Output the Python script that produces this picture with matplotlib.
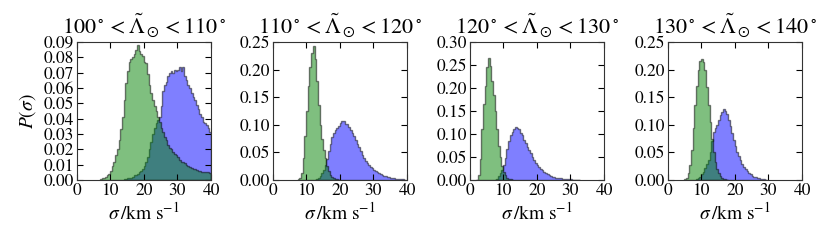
import numpy as np
import matplotlib
matplotlib.use("Agg")
import matplotlib.pyplot as plt

plt.rcParams['font.family'] = ['STIXGeneral', 'DejaVu Serif']
plt.rcParams['mathtext.fontset'] = 'stix'

bin_width = 0.5

titles = [r'$100^\circ < \tilde{\Lambda}_\odot < 110^\circ$',
          r'$110^\circ < \tilde{\Lambda}_\odot < 120^\circ$',
          r'$120^\circ < \tilde{\Lambda}_\odot < 130^\circ$',
          r'$130^\circ < \tilde{\Lambda}_\odot < 140^\circ$']

# green histograms: first bin edge, then density per 0.5 km/s bin
g1_start = 7.0
g1 = [0.0005, 0.001, 0.001, 0.002, 0.003, 0.004, 0.006, 0.009, 0.012, 0.016,
      0.020, 0.026, 0.033, 0.041, 0.052, 0.063, 0.071, 0.077, 0.079, 0.080,
      0.082, 0.085, 0.088, 0.084, 0.082, 0.081, 0.077, 0.076, 0.069, 0.062,
      0.057, 0.052, 0.048, 0.045, 0.041, 0.038, 0.034, 0.031, 0.028, 0.026,
      0.023, 0.021, 0.020, 0.018, 0.017, 0.016, 0.015, 0.013, 0.012, 0.012,
      0.011, 0.010, 0.009, 0.0085, 0.008, 0.0075, 0.007, 0.0065, 0.006, 0.006,
      0.0055, 0.0055, 0.005, 0.005, 0.005, 0.0045]
g2_start = 7.5
g2 = [0.001, 0.004, 0.012, 0.040, 0.080, 0.125, 0.170, 0.205, 0.230, 0.243,
      0.220, 0.180, 0.135, 0.100, 0.075, 0.055, 0.040, 0.026, 0.016, 0.009,
      0.005, 0.003, 0.0015, 0.001, 0.0005]
g3_start = 2.0
g3 = [0.001, 0.010, 0.045, 0.110, 0.165, 0.205, 0.245, 0.265, 0.248, 0.215,
      0.185, 0.150, 0.110, 0.075, 0.050, 0.030, 0.018, 0.010, 0.005, 0.003,
      0.0015, 0.001]
g4_start = 5.0
g4 = [0.001, 0.004, 0.012, 0.028, 0.055, 0.095, 0.135, 0.170, 0.200, 0.215,
      0.220, 0.213, 0.200, 0.168, 0.135, 0.105, 0.075, 0.050, 0.032, 0.020,
      0.012, 0.007, 0.004, 0.002, 0.001, 0.0005]

# blue histograms
b1_start = 14.0
b1 = [0.0005, 0.0005, 0.001, 0.001, 0.0015, 0.002, 0.003, 0.003, 0.004, 0.005,
      0.006, 0.007, 0.009, 0.012, 0.015, 0.020, 0.025, 0.030, 0.034, 0.037,
      0.039, 0.041, 0.048, 0.058, 0.062, 0.064, 0.068, 0.070, 0.071, 0.070,
      0.072, 0.071, 0.072, 0.074, 0.071, 0.074, 0.068, 0.065, 0.062, 0.060,
      0.057, 0.054, 0.052, 0.049, 0.046, 0.043, 0.041, 0.038, 0.037, 0.036,
      0.034, 0.031]
b2_start = 12.5
b2 = [0.0005, 0.002, 0.004, 0.008, 0.013, 0.019, 0.027, 0.038, 0.052, 0.066,
      0.078, 0.086, 0.090, 0.094, 0.098, 0.104, 0.107, 0.106, 0.101, 0.102,
      0.096, 0.091, 0.085, 0.080, 0.073, 0.066, 0.059, 0.052, 0.045, 0.040,
      0.035, 0.030, 0.027, 0.024, 0.021, 0.018, 0.016, 0.014, 0.012, 0.010,
      0.009, 0.008, 0.007, 0.006, 0.005, 0.004, 0.0035, 0.003, 0.0025, 0.002,
      0.0015, 0.001, 0.001, 0.0005]
b3_start = 7.5
b3 = [0.001, 0.003, 0.008, 0.015, 0.022, 0.032, 0.048, 0.068, 0.085, 0.097,
      0.105, 0.111, 0.116, 0.113, 0.110, 0.103, 0.097, 0.088, 0.080, 0.072,
      0.065, 0.058, 0.050, 0.044, 0.038, 0.033, 0.029, 0.025, 0.022, 0.018,
      0.015, 0.013, 0.011, 0.009, 0.0075, 0.006, 0.005, 0.0045, 0.004, 0.0035,
      0.003, 0.0025, 0.002, 0.002, 0.0015, 0.0015, 0.001, 0.001, 0.0008, 0.0005,
      0.0005]
b4_start = 8.5
b4 = [0.001, 0.003, 0.006, 0.010, 0.015, 0.021, 0.029, 0.037, 0.050, 0.070,
      0.087, 0.095, 0.100, 0.108, 0.118, 0.123, 0.128, 0.125, 0.119, 0.108,
      0.097, 0.085, 0.072, 0.061, 0.051, 0.043, 0.036, 0.029, 0.024, 0.020,
      0.016, 0.013, 0.010, 0.008, 0.006, 0.005, 0.004, 0.003, 0.002, 0.0015,
      0.001, 0.0005]

greens = [(g1_start, g1), (g2_start, g2), (g3_start, g3), (g4_start, g4)]
blues = [(b1_start, b1), (b2_start, b2), (b3_start, b3), (b4_start, b4)]
ymax = [0.09, 0.25, 0.30, 0.25]
ystep = [0.01, 0.05, 0.05, 0.05]

fig = plt.figure(figsize=(8.3, 2.42), dpi=100)
lefts = [76.5, 272.5, 469.5, 667.5]


def draw(ax, start, vals, color):
    vals = np.array(vals)
    edges = start + bin_width * np.arange(len(vals) + 1)
    centers = edges[:-1] + bin_width / 2
    ax.hist(centers, bins=edges, weights=vals, histtype='stepfilled',
            facecolor=color, edgecolor='k', alpha=0.5, linewidth=1)


for i in range(4):
    ax = fig.add_axes([lefts[i] / 830, 62 / 242, 134.5 / 830, 138 / 242])
    draw(ax, *blues[i], 'b')
    draw(ax, *greens[i], 'g')
    ax.set_xlim(0, 40)
    ax.set_ylim(0, ymax[i])
    ax.set_xticks([0, 10, 20, 30, 40])
    ax.set_yticks(np.arange(0, ymax[i] + 1e-9, ystep[i]))
    ax.yaxis.set_major_formatter(matplotlib.ticker.FormatStrFormatter('%.2f'))
    ax.tick_params(direction='in', top=True, right=True, length=4,
                   labelsize=12.5, pad=2)
    for s in ax.spines.values():
        s.set_color('#333333')
    ax.set_title(titles[i], fontsize=16, pad=6)
    ax.set_xlabel(r'$\sigma\,/\mathrm{km\ s^{-1}}$', fontsize=14, labelpad=2)
    if i == 0:
        ax.set_ylabel(r'$P(\sigma)$', fontsize=14, labelpad=4)

fig.savefig('out.png', dpi=100)
